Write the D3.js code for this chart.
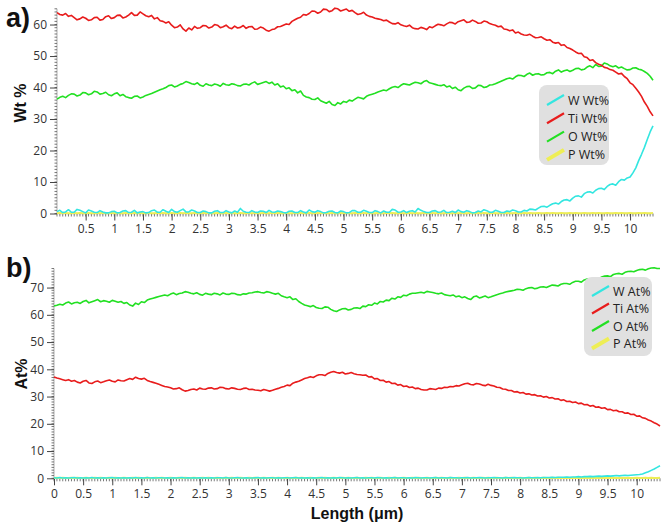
<!DOCTYPE html>
<html><head><meta charset="utf-8">
<script src="https://cdn.jsdelivr.net/npm/d3@7"></script>
<style>body{margin:0;background:#fff}svg{display:block}</style>
</head><body>
<svg id="c" width="661" height="529"></svg>
<script>
// ---------- DATA (sampled every 0.05 µm, 0 .. 10.4) ----------
const lengthUm = [
0,0.05,0.1,0.15,0.2,0.25,0.3,0.35,0.4,0.45,
0.5,0.55,0.6,0.65,0.7,0.75,0.8,0.85,0.9,0.95,
1,1.05,1.1,1.15,1.2,1.25,1.3,1.35,1.4,1.45,
1.5,1.55,1.6,1.65,1.7,1.75,1.8,1.85,1.9,1.95,
2,2.05,2.1,2.15,2.2,2.25,2.3,2.35,2.4,2.45,
2.5,2.55,2.6,2.65,2.7,2.75,2.8,2.85,2.9,2.95,
3,3.05,3.1,3.15,3.2,3.25,3.3,3.35,3.4,3.45,
3.5,3.55,3.6,3.65,3.7,3.75,3.8,3.85,3.9,3.95,
4,4.05,4.1,4.15,4.2,4.25,4.3,4.35,4.4,4.45,
4.5,4.55,4.6,4.65,4.7,4.75,4.8,4.85,4.9,4.95,
5,5.05,5.1,5.15,5.2,5.25,5.3,5.35,5.4,5.45,
5.5,5.55,5.6,5.65,5.7,5.75,5.8,5.85,5.9,5.95,
6,6.05,6.1,6.15,6.2,6.25,6.3,6.35,6.4,6.45,
6.5,6.55,6.6,6.65,6.7,6.75,6.8,6.85,6.9,6.95,
7,7.05,7.1,7.15,7.2,7.25,7.3,7.35,7.4,7.45,
7.5,7.55,7.6,7.65,7.7,7.75,7.8,7.85,7.9,7.95,
8,8.05,8.1,8.15,8.2,8.25,8.3,8.35,8.4,8.45,
8.5,8.55,8.6,8.65,8.7,8.75,8.8,8.85,8.9,8.95,
9,9.05,9.1,9.15,9.2,9.25,9.3,9.35,9.4,9.45,
9.5,9.55,9.6,9.65,9.7,9.75,9.8,9.85,9.9,9.95,
10,10.05,10.1,10.15,10.2,10.25,10.3,10.35,10.4];

const wtTi = [
63.8,63.2,63.0,63.5,62.6,62.9,62.2,61.5,61.8,62.4,
62.0,61.3,61.5,62.2,62.3,61.4,61.6,62.5,62.8,61.9,
62.2,62.9,63.0,62.1,62.4,63.0,63.8,62.9,63.0,64.0,
63.4,62.8,62.5,62.9,61.8,62.2,61.2,61.0,60.5,60.9,
59.8,59.0,59.2,59.9,58.6,57.9,58.9,58.3,59.4,58.8,
59.0,59.7,59.6,58.9,59.2,60.0,59.8,59.0,59.3,59.8,
59.0,58.7,59.5,58.9,59.1,59.7,58.8,59.3,59.4,58.5,
58.6,59.2,58.9,58.2,57.9,58.4,58.6,59.3,59.4,59.8,
60.2,60.0,61.0,61.5,62.0,62.3,63.2,63.0,63.5,64.3,
64.2,63.6,64.0,64.9,64.8,64.1,64.4,65.2,65.0,64.3,
64.6,64.9,64.2,64.5,63.8,63.2,63.4,63.9,63.0,62.6,
62.4,62.0,61.8,61.6,61.2,61.4,60.8,60.3,60.2,60.6,
59.9,59.6,59.4,59.8,59.0,58.7,58.6,59.1,58.8,58.4,
59.3,59.0,59.6,60.1,59.9,59.6,60.2,60.7,60.6,60.2,
60.9,61.2,61.5,60.7,60.8,61.4,61.0,60.4,60.5,61.1,
60.9,60.3,60.0,59.8,59.3,59.5,58.6,58.4,58.0,58.3,
57.3,57.6,57.0,56.7,56.6,56.9,56.3,55.8,55.9,56.1,
55.5,55.0,55.2,54.4,54.1,54.3,53.4,53.6,52.7,52.4,
51.9,51.3,50.8,50.9,49.8,49.5,48.6,48.8,47.9,47.4,
47.1,46.4,46.2,45.7,45.5,44.9,44.3,44.5,43.5,42.8,
41.5,40.9,39.8,38.6,37.2,35.4,34.0,32.3,31.0];

const wtO = [
36.3,36.9,37.2,36.8,37.5,38.0,37.9,37.3,37.6,38.4,
38.3,37.7,38.0,38.8,38.6,37.9,38.1,38.5,37.7,37.4,
38.0,38.3,37.4,37.8,37.1,36.8,36.6,37.2,37.3,36.7,
37.0,37.5,37.8,38.1,38.5,38.9,39.3,39.6,40.0,40.6,
40.8,40.2,40.5,41.0,41.3,41.9,41.6,41.2,41.0,41.5,
40.7,40.4,41.2,40.8,40.6,41.1,40.9,40.4,41.3,40.9,
40.7,41.2,41.0,40.6,40.5,41.0,41.1,40.8,41.4,41.8,
41.0,41.3,41.6,41.9,41.3,41.7,40.8,41.2,40.2,40.5,
39.6,39.9,39.0,39.3,38.3,38.9,37.5,37.0,36.8,36.3,
36.2,36.7,35.8,35.4,35.0,35.6,34.6,34.3,35.2,34.8,
35.6,35.3,36.0,35.7,36.3,36.9,36.7,36.4,37.2,37.6,
37.9,38.2,38.6,38.9,39.2,39.0,39.6,40.1,40.3,40.0,
40.7,41.2,41.0,40.8,41.3,41.7,41.5,41.2,41.9,42.2,
41.5,41.3,41.0,40.7,40.6,40.9,40.2,40.5,39.7,40.1,
39.3,39.0,39.8,40.3,40.4,39.7,39.9,40.7,40.6,40.0,
40.2,40.8,40.9,41.2,41.6,42.0,42.4,42.8,43.0,42.7,
43.4,43.9,43.8,43.5,44.2,44.6,43.9,44.3,44.4,44.0,
44.1,44.7,44.8,44.4,45.2,45.6,44.9,45.3,45.6,45.1,
45.5,46.0,46.1,45.6,45.8,46.5,46.9,46.3,47.3,46.7,
46.8,47.8,47.5,46.9,46.6,46.9,46.2,46.5,46.0,45.6,
45.7,46.2,46.3,45.8,45.6,45.1,44.5,43.6,42.3];

const wtW = [
0.6,1.0,0.3,0.5,1.2,0.4,0.4,1.3,1.0,0.6,
0.2,1.1,0.8,0.4,0.3,0.9,0.5,0.2,0.2,0.6,
0.7,0.2,0.3,0.8,0.9,0.3,0.4,1.0,0.2,0.5,
0.6,0.2,0.3,0.9,1.1,0.4,0.4,1.2,0.7,0.3,
1.3,0.6,0.4,0.9,1.4,0.5,0.5,1.1,0.8,0.3,
0.3,0.8,0.6,0.2,0.2,0.7,0.9,0.3,0.3,0.9,
0.5,0.2,0.8,0.4,1.6,0.7,0.4,0.3,0.9,0.5,
0.3,0.8,0.7,0.3,1.0,0.5,0.4,0.8,0.6,0.3,
0.2,0.7,0.8,0.3,0.3,0.9,0.5,0.2,1.1,0.6,
0.4,0.9,0.6,0.2,0.3,0.7,0.8,0.3,0.2,0.8,
0.6,0.2,0.3,0.9,0.9,0.4,0.4,1.0,0.7,0.3,
0.3,0.9,0.6,0.2,0.8,0.4,0.4,1.3,1.1,0.4,
0.5,0.9,0.3,0.7,0.9,0.5,1.6,1.0,0.6,0.3,
0.3,0.8,0.9,0.4,0.5,1.0,0.3,0.4,0.7,0.3,
1.1,0.6,0.4,0.9,0.6,0.2,0.3,0.8,0.5,1.2,
0.9,0.4,0.4,1.0,0.7,0.3,0.3,0.8,0.6,1.1,
0.9,0.5,0.5,1.0,0.8,1.4,1.3,1.1,1.7,2.2,
2.3,2.0,2.6,3.1,3.3,3.0,3.8,4.3,4.4,4.0,
4.9,5.5,5.6,5.2,6.3,6.8,6.9,6.5,7.4,7.9,
8.0,7.6,8.6,9.2,9.4,9.0,10.1,10.8,10.6,11.3,
11.6,12.9,14.5,16.8,18.8,21.0,23.5,25.9,27.8];

const wtP = [
0.1,0.2,0.1,0.2,0.1,0.1,0.2,0.1,0.2,0.1,
0.1,0.2,0.1,0.1,0.2,0.1,0.2,0.1,0.1,0.2,
0.1,0.2,0.1,0.1,0.2,0.1,0.1,0.2,0.1,0.2,
0.1,0.1,0.2,0.1,0.1,0.2,0.1,0.2,0.1,0.1,
0.2,0.1,0.1,0.2,0.1,0.2,0.1,0.1,0.2,0.1,
0.1,0.2,0.1,0.2,0.1,0.1,0.2,0.1,0.1,0.2,
0.1,0.2,0.1,0.1,0.2,0.1,0.1,0.2,0.1,0.2,
0.1,0.1,0.2,0.1,0.1,0.2,0.1,0.2,0.1,0.1,
0.2,0.1,0.1,0.2,0.1,0.2,0.1,0.1,0.2,0.1,
0.1,0.2,0.1,0.2,0.1,0.1,0.2,0.1,0.1,0.2,
0.1,0.2,0.1,0.1,0.2,0.1,0.1,0.2,0.1,0.2,
0.1,0.1,0.2,0.1,0.1,0.2,0.1,0.2,0.1,0.1,
0.2,0.1,0.1,0.2,0.1,0.2,0.1,0.1,0.2,0.1,
0.1,0.2,0.1,0.2,0.1,0.1,0.2,0.1,0.1,0.2,
0.1,0.2,0.1,0.1,0.2,0.1,0.1,0.2,0.1,0.2,
0.1,0.1,0.2,0.1,0.1,0.2,0.1,0.2,0.1,0.1,
0.2,0.1,0.1,0.2,0.1,0.2,0.1,0.1,0.2,0.1,
0.1,0.2,0.1,0.2,0.1,0.1,0.2,0.1,0.1,0.2,
0.1,0.2,0.1,0.1,0.2,0.1,0.1,0.2,0.1,0.2,
0.1,0.1,0.2,0.1,0.1,0.2,0.1,0.2,0.1,0.1,
0.2,0.1,0.1,0.2,0.1,0.2,0.1,0.1,0.2];

const atO = [
63.2,63.5,63.9,63.6,64.3,64.7,64.0,64.4,64.6,64.2,
64.9,65.3,64.4,64.8,65.2,65.6,64.8,65.2,65.0,64.6,
65.3,65.0,64.6,64.9,64.2,64.5,63.6,63.2,64.3,63.8,
64.8,64.5,65.4,65.8,66.1,66.4,66.7,67.0,67.3,67.0,
67.6,68.0,67.4,67.8,68.0,68.5,68.3,67.9,67.7,68.1,
67.5,67.2,67.9,67.6,67.4,67.9,67.7,67.3,68.0,67.6,
67.5,67.9,67.8,67.4,67.3,67.7,67.6,68.0,68.1,68.4,
68.5,68.2,68.0,68.5,68.3,67.9,67.6,67.9,67.0,66.6,
66.3,66.6,65.6,65.9,64.9,64.2,63.6,63.3,63.0,63.4,
62.7,62.4,62.3,62.9,62.8,62.0,61.5,61.2,61.8,62.2,
62.3,61.8,62.0,62.5,62.6,62.3,63.2,63.0,63.7,63.5,
64.3,64.0,64.9,64.7,65.4,65.2,66.1,65.8,66.6,66.4,
67.2,67.0,67.6,67.9,67.9,68.1,68.3,68.0,68.6,68.4,
68.2,67.9,67.7,68.0,67.4,67.2,67.0,67.3,66.6,66.9,
66.3,66.6,66.0,65.6,66.6,66.9,66.2,66.5,66.9,66.3,
66.6,67.0,67.4,67.7,68.0,68.4,68.6,68.8,69.0,69.4,
69.3,69.0,69.6,69.9,70.0,69.6,69.8,70.2,70.3,70.0,
70.5,70.9,70.8,70.6,71.2,71.5,71.5,71.2,71.9,72.3,
72.3,72.0,72.8,73.1,73.0,73.3,73.5,73.3,73.9,74.2,
74.3,74.0,74.8,75.1,75.2,74.9,75.6,75.9,76.0,75.8,
76.3,76.6,76.7,76.4,76.9,77.2,77.3,77.0,77.0];

const atTi = [
37.2,36.8,36.5,36.2,35.9,36.2,35.6,35.9,35.3,35.0,
35.6,35.9,35.0,34.8,35.4,35.7,35.1,35.4,35.8,36.1,
35.6,35.4,36.1,35.8,35.7,36.2,36.6,36.3,37.1,36.6,
36.4,36.7,35.9,35.5,35.2,34.9,34.5,34.1,33.7,33.5,
33.2,32.8,32.9,33.2,32.5,32.0,32.2,32.6,32.8,32.4,
33.1,32.8,32.7,33.1,33.2,32.8,32.9,33.4,33.3,32.9,
32.8,33.2,33.0,32.7,32.6,33.0,33.1,32.6,32.7,32.4,
32.3,32.1,32.6,32.3,32.0,32.3,32.7,33.0,33.4,33.7,
34.2,34.0,34.9,35.3,35.6,36.1,36.6,36.9,37.3,37.0,
37.6,38.0,38.0,37.7,38.5,38.9,39.2,38.8,38.6,38.9,
38.3,38.5,38.8,38.4,38.1,38.0,37.8,37.9,37.2,37.3,
36.5,36.6,35.9,36.0,35.3,35.5,34.8,34.9,34.2,34.4,
33.7,33.9,33.3,33.5,32.9,33.1,32.6,32.4,32.4,32.9,
32.8,32.6,33.1,33.0,33.4,33.3,33.7,33.6,34.0,33.9,
34.3,34.7,34.9,34.4,34.3,34.8,34.6,34.2,34.0,34.5,
34.1,33.9,33.4,33.3,32.8,32.7,32.2,32.2,31.7,31.8,
31.3,31.5,30.9,31.0,30.6,30.7,30.2,30.3,29.8,30.0,
29.5,29.6,29.1,29.2,28.6,28.8,28.2,28.3,27.8,28.0,
27.4,27.6,27.0,27.1,26.5,26.7,26.1,26.2,25.7,25.9,
25.2,25.3,24.8,25.0,24.4,24.4,23.9,24.0,23.4,23.5,
22.8,22.9,22.2,22.0,21.4,21.0,20.4,19.9,19.2];

const atW = [
0.2,0.1,0.3,0.1,0.2,0.1,0.2,0.3,0.1,0.2,
0.1,0.2,0.1,0.3,0.1,0.2,0.1,0.2,0.1,0.2,
0.3,0.1,0.2,0.1,0.2,0.1,0.2,0.1,0.3,0.1,
0.2,0.1,0.3,0.1,0.2,0.1,0.2,0.2,0.1,0.2,
0.1,0.2,0.1,0.2,0.3,0.1,0.2,0.1,0.2,0.1,
0.2,0.1,0.2,0.1,0.2,0.1,0.2,0.2,0.1,0.3,
0.1,0.1,0.2,0.3,0.1,0.1,0.2,0.1,0.1,0.2,
0.3,0.1,0.2,0.1,0.2,0.2,0.1,0.2,0.1,0.2,
0.2,0.1,0.2,0.3,0.1,0.2,0.1,0.2,0.1,0.2,
0.1,0.2,0.3,0.1,0.2,0.1,0.2,0.1,0.3,0.2,
0.1,0.2,0.1,0.2,0.3,0.1,0.2,0.1,0.2,0.2,
0.1,0.3,0.2,0.1,0.2,0.1,0.2,0.3,0.1,0.2,
0.2,0.1,0.2,0.1,0.3,0.2,0.1,0.2,0.2,0.1,
0.2,0.3,0.1,0.2,0.2,0.1,0.3,0.2,0.2,0.1,
0.2,0.2,0.3,0.1,0.2,0.2,0.3,0.2,0.1,0.2,
0.2,0.3,0.2,0.2,0.1,0.3,0.2,0.2,0.3,0.2,
0.2,0.1,0.2,0.3,0.2,0.2,0.3,0.2,0.3,0.3,
0.3,0.4,0.3,0.4,0.4,0.4,0.5,0.4,0.5,0.5,
0.6,0.5,0.6,0.6,0.7,0.6,0.7,0.8,0.7,0.8,
0.9,0.8,0.9,1.0,0.9,1.0,1.1,1.0,1.1,1.2,
1.3,1.4,1.6,2.0,2.4,2.9,3.4,4.0,4.6];

const atP = wtP;

const topXTicks = [0.5,1,1.5,2,2.5,3,3.5,4,4.5,5,5.5,6,6.5,7,7.5,8,8.5,9,9.5,10];
const bottomXTicks = [0,0.5,1,1.5,2,2.5,3,3.5,4,4.5,5,5.5,6,6.5,7,7.5,8,8.5,9,9.5,10];
const topYTicks = [0,10,20,30,40,50,60];
const bottomYTicks = [0,10,20,30,40,50,60,70];
const elements = ["W","Ti","O","P"];
const colors = {W:"#33e6e0", Ti:"#e81c1c", O:"#22e022", P:"#eeee55"};

// ---------- DRAW ----------
const svg = d3.select("#c");
const tickFont = "'Open Sans', 'DejaVu Sans', sans-serif";
const boldFont = "'Liberation Sans', Arial, sans-serif";

function panel(cfg){
  const g = svg.append("g");
  const x = d3.scaleLinear().domain([0, cfg.xMax]).range([cfg.x0, cfg.x1]);
  const y = d3.scaleLinear().domain([0, cfg.yMax]).range([cfg.yBase, cfg.yTop]);

  g.append("line").attr("x1", cfg.x0).attr("x2", cfg.x1).attr("y1", cfg.yBase).attr("y2", cfg.yBase)
    .attr("stroke","#c8c8c8").attr("stroke-width",1.5);
  const minorX = d3.range(0, cfg.xMax + 1e-6, 0.05);
  g.append("g").selectAll("line").data(minorX).join("line")
    .attr("x1", d=>x(d)).attr("x2", d=>x(d)).attr("y1", cfg.yBase).attr("y2", cfg.yBase+3)
    .attr("stroke","#555").attr("stroke-width",0.8);
  const xAxis = d3.axisBottom(x).tickValues(cfg.xTicks).tickSize(7).tickPadding(4).tickFormat(d3.format("~g"));
  const xa = g.append("g").attr("transform",`translate(0,${cfg.yBase})`).call(xAxis);
  xa.select(".domain").remove();
  xa.selectAll(".tick line").attr("stroke","#444").attr("stroke-width",1);
  xa.selectAll("text").attr("font-family",tickFont).attr("font-size",12).attr("fill","#333");

  g.append("line").attr("x1", cfg.x0).attr("x2", cfg.x0).attr("y1", cfg.yBase).attr("y2", cfg.yTop)
    .attr("stroke","#c8c8c8").attr("stroke-width",1.5);
  const minorY = d3.range(0, cfg.yMax + 1e-6, 1);
  g.append("g").selectAll("line").data(minorY).join("line")
    .attr("x1", cfg.x0-2.5).attr("x2", cfg.x0).attr("y1", d=>y(d)).attr("y2", d=>y(d))
    .attr("stroke","#555").attr("stroke-width",0.8);
  const yAxis = d3.axisLeft(y).tickValues(cfg.yTicks).tickSize(7).tickPadding(3);
  const ya = g.append("g").attr("transform",`translate(${cfg.x0},0)`).call(yAxis);
  ya.select(".domain").remove();
  ya.selectAll(".tick line").attr("stroke","#444").attr("stroke-width",1);
  ya.selectAll("text").attr("font-family",tickFont).attr("font-size",12).attr("fill","#333");

  const line = d3.line().defined(d=>d!=null).x((d,i)=>x(lengthUm[i])).y(d=>y(d));
  ["P","W","O","Ti"].forEach(k=>{
    g.append("path").datum(cfg.series[k]).attr("d", line).attr("fill","none")
      .attr("stroke", colors[k]).attr("stroke-width", k==="P"?2:1.6).attr("stroke-linejoin","round");
  });

  const L = cfg.legend;
  g.append("rect").attr("x",L.x).attr("y",L.y).attr("width",L.w).attr("height",L.h)
    .attr("rx",8).attr("fill","#e0e0e0");
  elements.forEach((k,i)=>{
    const cy = L.y + L.first + i*L.step;
    g.append("line").attr("x1",L.x+8).attr("y1",cy+5).attr("x2",L.x+25).attr("y2",cy-5)
      .attr("stroke",colors[k]).attr("stroke-width",k==="P"?4:2.2);
    g.append("text").attr("x",L.x+29).attr("y",cy+4.5).text(`${k} ${cfg.unit}`)
      .attr("font-family",tickFont).attr("font-size",12.5).attr("fill","#222");
  });

  svg.append("text").attr("transform",`translate(${cfg.titleX},${cfg.titleY}) rotate(-90)`)
    .attr("text-anchor","middle").attr("font-family",boldFont).attr("font-weight","bold")
    .attr("font-size",16).attr("fill","#111").text(cfg.yTitle);
  svg.append("text").attr("x",cfg.labelX).attr("y",cfg.labelY).attr("font-family",boldFont)
    .attr("font-weight","bold").attr("font-size",27).attr("fill","#111").text(cfg.label);
}

panel({
  x0:57, x1:653, xMax:10.4, yBase:213.5, yTop:8.8, yMax:65,
  xTicks:topXTicks, yTicks:topYTicks,
  series:{W:wtW, Ti:wtTi, O:wtO, P:wtP}, unit:"Wt%",
  legend:{x:539, y:85, w:70, h:80, first:15, step:18.3},
  yTitle:"Wt %", titleX:26, titleY:103, label:"a)", labelX:6, labelY:27
});
panel({
  x0:54, x1:660, xMax:10.4, yBase:478.3, yTop:268.5, yMax:77,
  xTicks:bottomXTicks, yTicks:bottomYTicks,
  series:{W:atW, Ti:atTi, O:atO, P:atP}, unit:"At%",
  legend:{x:584, y:277, w:68, h:79, first:14, step:17.5},
  yTitle:"At%", titleX:27, titleY:374, label:"b)", labelX:6, labelY:277
});
svg.append("text").attr("x",357).attr("y",519).attr("text-anchor","middle")
  .attr("font-family",boldFont).attr("font-weight","bold").attr("font-size",16).attr("fill","#111")
  .text("Length (μm)");
</script>
</body></html>
